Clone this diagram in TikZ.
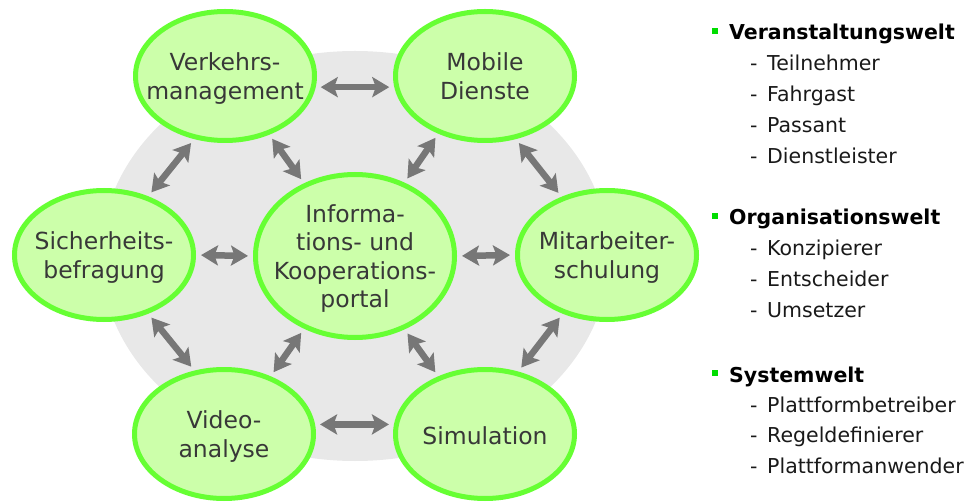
\documentclass[tikz,border=0pt]{standalone}
\usepackage{fontspec}
\setmainfont{DejaVu Sans}
\usetikzlibrary{arrows.meta,shapes.geometric}
\definecolor{efill}{HTML}{CCFFAA}
\definecolor{eline}{HTML}{66FF33}
\definecolor{bggray}{HTML}{E8E8E8}
\definecolor{arrgray}{HTML}{777777}
\definecolor{txtgray}{HTML}{383838}
\definecolor{bulgreen}{HTML}{00DD00}
\begin{document}
\begin{tikzpicture}[x=1pt,y=-1pt,
 ell/.style={ellipse, draw=eline, fill=efill, line width=5pt, inner sep=0pt, minimum width=179pt, minimum height=129pt},
 bigell/.style={ell, minimum width=199pt, minimum height=163pt},
 etext/.style={align=center, text=txtgray, font=\fontsize{23.5}{28.5}\selectfont, inner sep=0pt, yshift=-4.3pt, execute at begin node=\strut, execute at end node=\strut},
 dbl/.style={{Stealth[length=17pt,width=20pt,inset=3.5pt]}-{Stealth[length=17pt,width=20pt,inset=3.5pt]}, line width=6.5pt, draw=arrgray, shorten <=5pt, shorten >=5pt},
 head/.style={anchor=base west, font=\fontsize{20.5}{24}\selectfont\bfseries, inner sep=0pt, text=black},
 item/.style={anchor=base west, font=\fontsize{20.5}{24}\selectfont, inner sep=0pt, text=black!90}]
\useasboundingbox (0,0) rectangle (971,502);
\fill[bggray] (355,256) ellipse [x radius=254pt, y radius=205pt];

\node[ell] (verk) at (225,76) {};
\node[ell] (mob) at (485,76) {};
\node[ell] (sich) at (104,255) {};
\node[bigell] (cen) at (355,256) {};
\node[ell] (mit) at (607,255) {};
\node[ell] (vid) at (224,434) {};
\node[ell] (sim) at (485,434) {};

\node[etext] (verkt) at (verk) {Verkehrs-\\management};
\node[etext] (mobt) at (mob) {Mobile\\Dienste};
\node[etext] (sicht) at (sich) {Sicherheits-\\befragung};
\node[etext] (cent) at (cen) {Informa-\\tions- und\\Kooperations-\\portal};
\node[etext] (mitt) at (mit) {Mitarbeiter-\\schulung};
\node[etext] (vidt) at (vid) {Video-\\analyse};
\node[etext] (simt) at (sim) {Simulation};

\draw[dbl] (verk.-7) -- (mob.187);
\draw[dbl] (sich.0) -- (cen.180);
\draw[dbl] (cen.0) -- (mit.180);
\draw[dbl] (vid.6) -- (sim.174);
\draw[dbl] (verk.244) -- (sich.53);
\draw[dbl] (verk.307) -- (cen.125);
\draw[dbl] (mob.231) -- (cen.56);
\draw[dbl] (mob.296) -- (mit.128);
\draw[dbl] (sich.307) -- (vid.115);
\draw[dbl] (cen.235) -- (vid.51);
\draw[dbl] (cen.304) -- (sim.129);
\draw[dbl] (mit.233) -- (sim.62);

\newcommand{\mybul}{\llap{\textcolor{bulgreen}{\rule[6pt]{6pt}{6pt}}\hspace{11pt}}}
\newcommand{\mydash}{\makebox[17pt][l]{-}}
\node[head] (h1) at (729,40) {\mybul Veranstaltungswelt};
\node[item] (i11) at (750,71) {\mydash Teilnehmer};
\node[item] (i12) at (750,102) {\mydash Fahrgast};
\node[item] (i13) at (750,133) {\mydash Passant};
\node[item] (i14) at (750,164) {\mydash Dienstleister};
\node[head] (h2) at (729,225) {\mybul Organisationswelt};
\node[item] (i21) at (750,256) {\mydash Konzipierer};
\node[item] (i22) at (750,287) {\mydash Entscheider};
\node[item] (i23) at (750,318) {\mydash Umsetzer};
\node[head] (h3) at (729,382) {\mybul Systemwelt};
\node[item] (i31) at (750,412) {\mydash Plattformbetreiber};
\node[item] (i32) at (750,442) {\mydash Regeldefinierer};
\node[item] (i33) at (750,473) {\mydash Plattformanwender};
\end{tikzpicture}
\end{document}
